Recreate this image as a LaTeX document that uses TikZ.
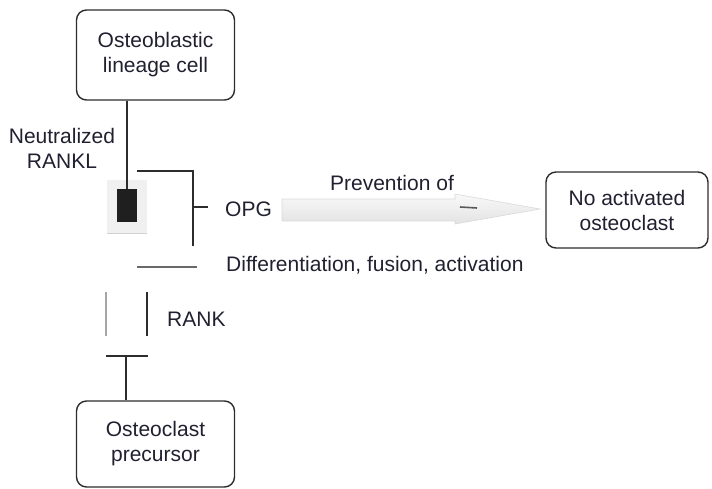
\documentclass[tikz,border=0pt]{standalone}
\usepackage{fontspec}
\setmainfont{Liberation Sans}
\definecolor{txt}{RGB}{32,32,48}
\definecolor{linec}{RGB}{45,45,45}
\definecolor{greyline}{RGB}{105,105,105}
\begin{document}
\begin{tikzpicture}[x=1pt,y=-1pt,
  box/.style={draw=linec, line width=1.4pt, rounded corners=10pt, align=center,
    font=\fontsize{21}{25}\selectfont, text=txt, inner sep=0pt},
  lbl/.style={font=\fontsize{21}{25}\selectfont, text=txt, inner sep=0pt, align=center},
  ln/.style={draw=linec, line width=1.4pt},
  gln/.style={draw=greyline, line width=2.4pt}]
\useasboundingbox (0,0) rectangle (712,489);

% boxes
\node[box, minimum width=158, minimum height=90] (ob) at (155.5,55) {Osteoblastic\\lineage cell};
\node[box, minimum width=158, minimum height=86] (oc) at (155.5,444) {Osteoclast\\precursor};
\node[box, minimum width=162, minimum height=76] (na) at (627,210) {No activated\\osteoclast};

% neutralized RANKL
\node[lbl] (nr) at (62,148) {Neutralized\\RANKL};
\node[fill=gray!12, minimum width=40, minimum height=53, inner sep=0pt] (bg) at (127,206.5) {};
\draw[gray!35, line width=1.2pt] (bg.south west) -- (bg.south east);
\node[fill=black!88, minimum width=20, minimum height=33, inner sep=0pt] (rk) at (127,205.5) {};
\draw[ln] (rk.north |- ob.south) -- (rk.north);

% OPG bracket
\coordinate (b1) at (137,171);
\coordinate (b2) at (193,171);
\coordinate (b3) at (193,246);
\coordinate (t1) at (193,207);
\coordinate (t2) at (208,207);
\draw[ln] (b1) -- (b2) -- (b3);
\draw[ln] (t1) -- (t2);
\node[lbl, anchor=west] (opg) at (225,209) {OPG};

% differentiation
\coordinate (g1) at (137,267);
\coordinate (g2) at (197,267);
\draw[gln] (g1) -- (g2);
\node[lbl, anchor=west] (diff) at (226,265) {Differentiation, fusion, activation};

% RANK
\coordinate (r1) at (106,292);
\coordinate (r2) at (106,336);
\coordinate (r3) at (147,292);
\coordinate (r4) at (147,336);
\draw[draw=gray!70, line width=1.8pt] (r1) -- (r2);
\draw[ln] (r3) -- (r4);
\node[lbl, anchor=west] (rank) at (167,319) {RANK};

% T from precursor
\coordinate (tl) at (106,356);
\coordinate (tr) at (148,356);
\coordinate (tm) at (126,356);
\draw[ln] (tl) -- (tr);
\draw[ln] (tm) -- (tm |- oc.north);

% big arrow
\coordinate (a0) at (282,199);
\coordinate (a1) at (455,199);
\coordinate (a2) at (455,194);
\coordinate (tip) at (540,209);
\coordinate (a4) at (455,224);
\coordinate (a5) at (455,221);
\coordinate (a6) at (282,221);
\shade[top color=gray!5, bottom color=gray!22, draw=gray!30, line width=0.6pt]
  (a0) -- (a1) -- (a2) -- (tip) -- (a4) -- (a5) -- (a6) -- cycle;
\draw[gray!70!black, line width=1.6pt] (460,207) -- (477,208);
\node[lbl] (prev) at (392,183) {Prevention of};
\end{tikzpicture}
\end{document}
